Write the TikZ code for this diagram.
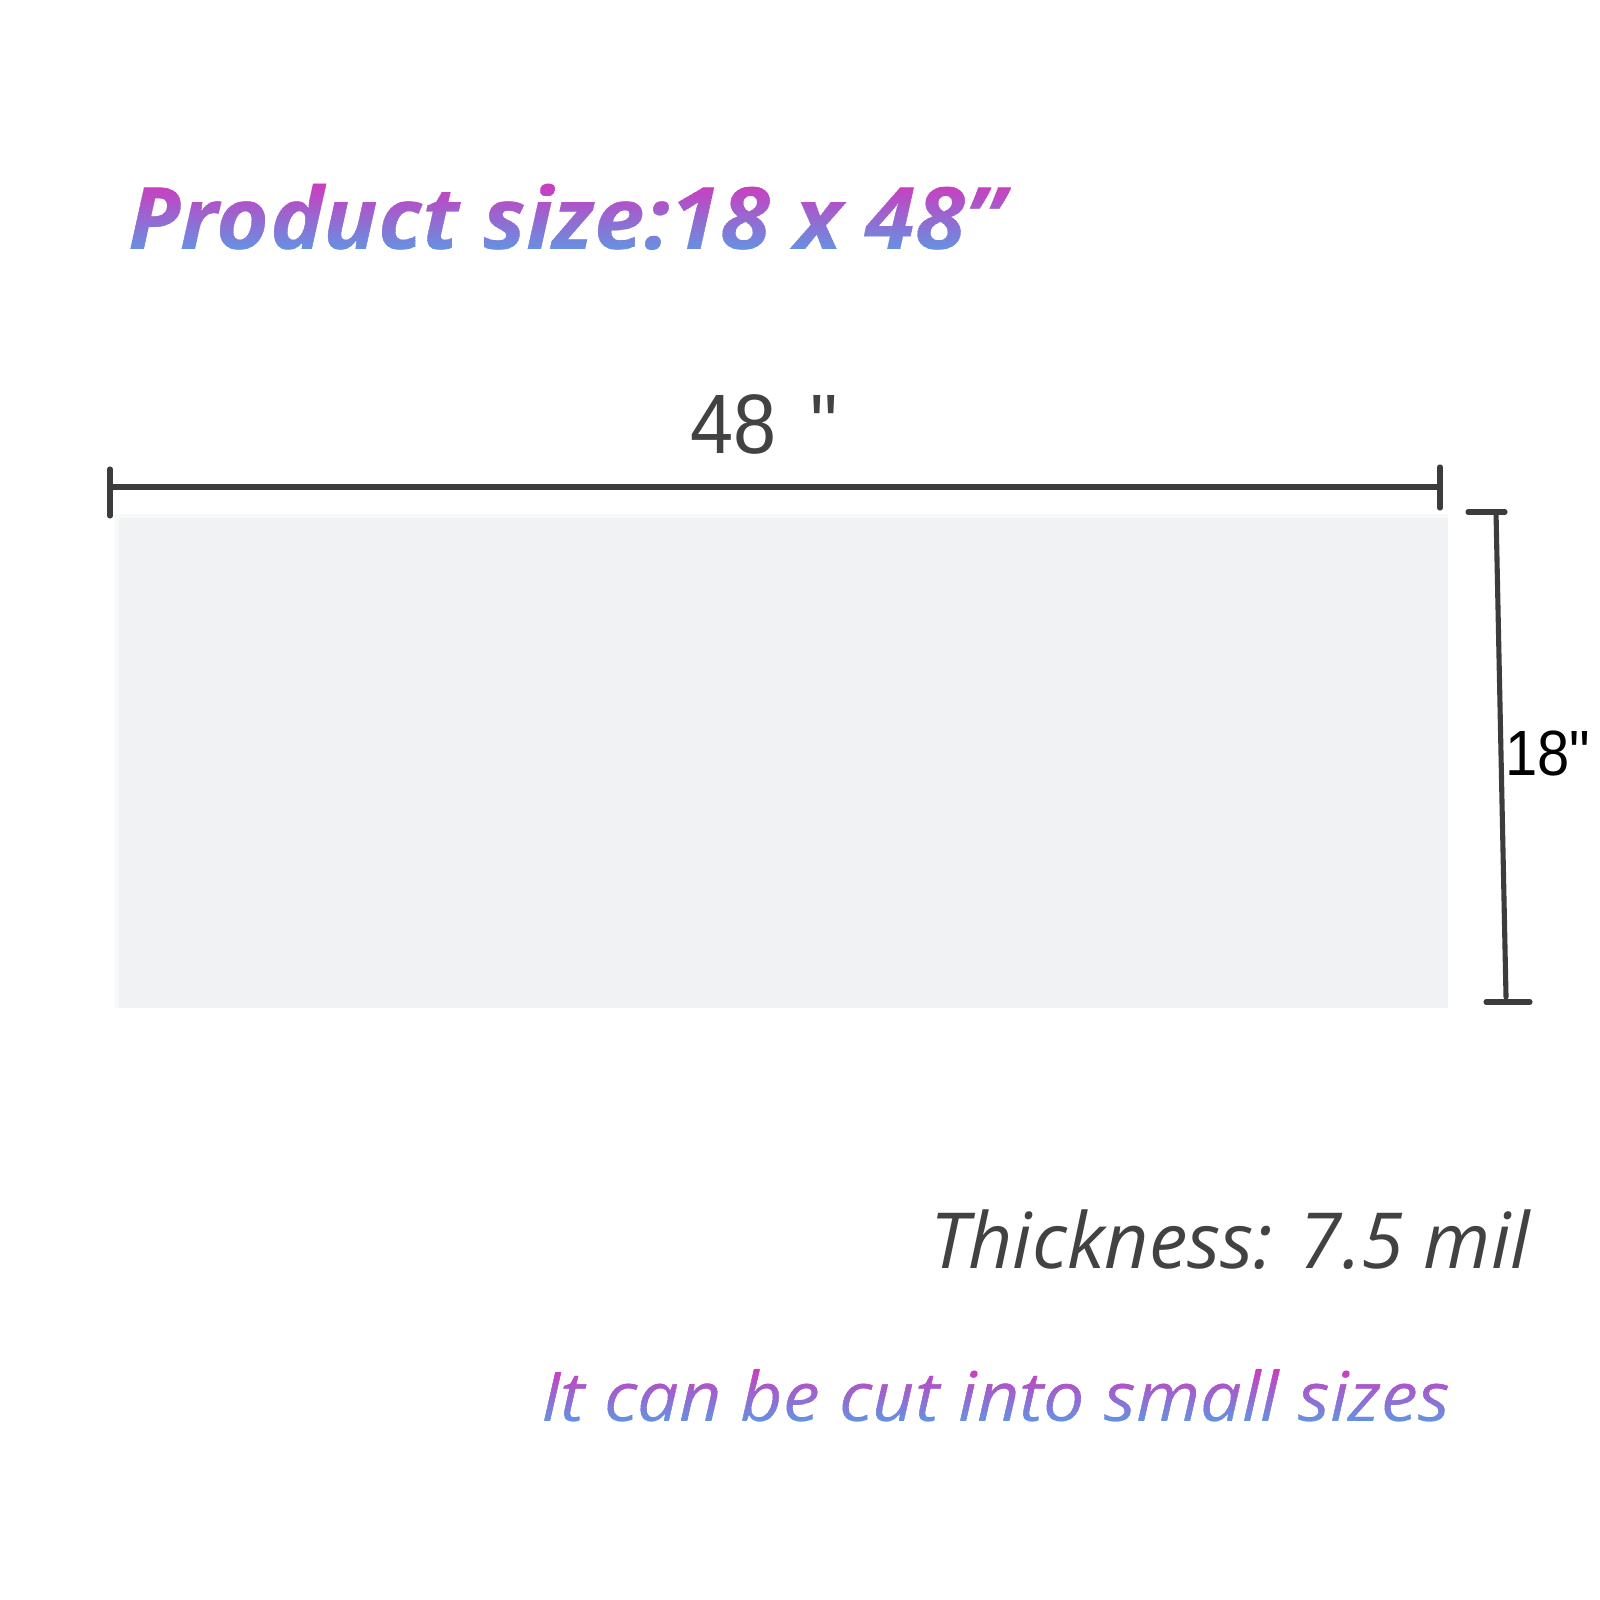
\documentclass[tikz,border=0pt]{standalone}
\usepackage{fontspec}
\setmainfont{Open Sans}
\newfontfamily\arialf{Liberation Sans}
\usetikzlibrary{calc}
\definecolor{gpink}{RGB}{204,60,190}
\definecolor{gblue}{RGB}{100,146,226}
\definecolor{dimgray}{RGB}{60,60,60}
\definecolor{txtgray}{RGB}{66,66,66}
\definecolor{sheetc}{RGB}{241,242,244}
\definecolor{sheetedge}{RGB}{248,249,249}
\newcommand\fitw[2]{\sbox0{#2}\pgfmathsetmacro\fitratio{#1/\wd0}\scalebox{\fitratio}[1]{\usebox0}}
% gradient text by stacked clipped strips: #1 x, #2 baseline y, #3 height, #4 content
\newcommand\gradtext[4]{%
  \foreach \i [evaluate=\i as \ylo using {(\i==0) ? (#2-0.4) : (#2+\i*#3/40)},
               evaluate=\i as \yhi using {(\i==39) ? (#2+#3+0.4) : (#2+(\i+1)*#3/40)},
               evaluate=\i as \pp using {(\i+0.5)/40*100}] in {0,...,39} {%
    \begin{scope}
      \clip (#1-6,\ylo) rectangle (#1+6,\yhi);
      \node[plaintext, text=gpink!\pp!gblue] at (#1,#2) {#4};
    \end{scope}
  }%
}
\tikzset{
  dimline/.style={draw=dimgray, line width=1.45pt, line cap=round},
  plaintext/.style={anchor=base, inner sep=0pt}
}
\begin{document}
\begin{tikzpicture}
\useasboundingbox (0,0) rectangle (16,-16);
\fill[white] (0,0) rectangle (16,-16);
% sheet
\fill[sheetedge] (1.15,-5.14) rectangle (14.48,-10.08);
\fill[sheetc] (1.19,-5.18) rectangle (14.48,-10.08);
% title (gradient text)
\coordinate (title) at (5.665,-2.50);
\gradtext{5.665}{-2.50}{0.66}{\fontsize{24.5}{28}\selectfont\bfseries\itshape\fitw{8.77cm}{Product size:18 x 48"}}
% horizontal dimension
\coordinate (hl) at (1.10,-4.87);
\coordinate (hr) at (14.40,-4.87);
\draw[dimline] (hl) -- (hr);
\draw[dimline] ($(hl)+(0,0.18)$) -- ($(hl)+(0,-0.29)$);
\draw[dimline] ($(hr)+(0,0.20)$) -- ($(hr)+(0,-0.21)$);
\node[plaintext, text=txtgray, font=\arialf\fontsize{24}{28}\selectfont] (wlabel) at (7.64,-4.54) {\fitw{1.48cm}{48 \,"}};
% vertical dimension
\coordinate (vt) at (14.96,-5.12);
\coordinate (vb) at (15.06,-9.97);
\draw[dimline] (vt) -- (vb);
\draw[dimline] (14.68,-5.12) -- (15.05,-5.12);
\draw[dimline] (14.86,-10.02) -- (15.30,-10.02);
\node[plaintext, text=black, font=\arialf\fontsize{18.2}{22}\selectfont] (hlabel) at (15.475,-7.75) {\fitw{0.85cm}{18"}};
% thickness
\node[plaintext, text=txtgray, font=\fontsize{22}{26}\selectfont\itshape] (thick) at (12.30,-12.68) {\fitw{6.00cm}{Thickness: 7.5 mil}};
% cut text (gradient)
\coordinate (cut) at (9.955,-14.21);
\gradtext{9.955}{-14.21}{0.52}{\fontsize{19.5}{24}\selectfont\itshape\fitw{9.09cm}{It can be cut into small sizes}}
\end{tikzpicture}
\end{document}
